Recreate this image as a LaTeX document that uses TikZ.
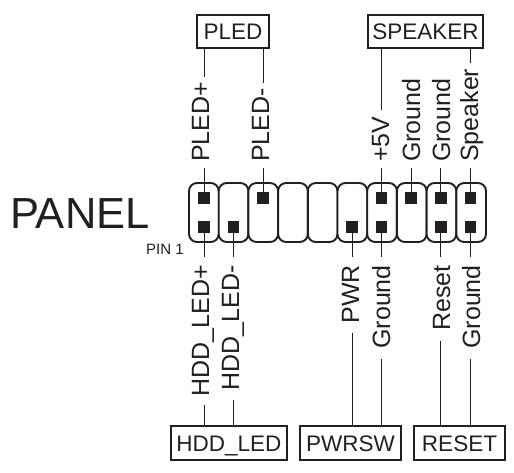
\documentclass[tikz,border=0pt]{standalone}
\usepackage{fontspec}
\setmainfont{Liberation Sans}
\definecolor{ink}{HTML}{231F20}
\tikzset{
  x=1pt,y=-1pt,
  boxlab/.style={draw=ink,line width=2.2pt,text=ink,font=\fontsize{22.5}{22.5}\selectfont,inner sep=0pt,anchor=center,text height=16pt,text depth=0pt},
  uplab/.style={rotate=90,anchor=base west,inner sep=0pt,text=ink,font=\fontsize{25}{25}\selectfont},
  downlab/.style={rotate=90,anchor=base east,inner sep=0pt,text=ink,font=\fontsize{25}{25}\selectfont},
  pin/.style={fill=ink,draw=none,minimum size=11.5pt,inner sep=0pt},
  cell/.style={draw=ink,line width=1.9pt,rounded corners=8pt,fill=white},
  wire/.style={draw=ink,line width=0.8pt},
}
\begin{document}
\begin{tikzpicture}
\useasboundingbox (0,0) rectangle (514,472);
% housing cells
\foreach \i in {0,...,9}{
  \draw[cell] ({189+\i*29.7},183) rectangle ({218.7+\i*29.7},242);
}
% pins
\foreach \nm/\x/\y in {a/204/198,b/204/227,c/233.6/227,d/263.2/198,e/352/227,f/381.6/198,g/381.6/227,h/411.2/198,i/440.8/198,j/440.8/227,k/470.4/198,l/470.4/227}{
  \node[pin] (p\nm) at (\x,\y) {};
}
% header boxes
\node[boxlab,minimum width=72pt,minimum height=33.5pt] (pled) at (233,31.5) {PLED};
\node[boxlab,minimum width=115pt,minimum height=33.5pt] (spk) at (425.5,31.5) {SPEAKER};
\node[boxlab,minimum width=116pt,minimum height=34pt] (hdd) at (229,443) {HDD\_LED};
\node[boxlab,minimum width=101pt,minimum height=34pt] (pwr) at (350.5,443) {PWRSW};
\node[boxlab,minimum width=91pt,minimum height=34pt] (rst) at (459.5,443) {RESET};
% top labels
\node[uplab] (t1) at (209,162) {PLED+};
\node[uplab] (t2) at (269,162) {PLED-};
\node[uplab] (t3) at (389,162) {+5V};
\node[uplab] (t4) at (420,162) {Ground};
\node[uplab] (t5) at (450,162) {Ground};
\node[uplab] (t6) at (478,162) {Speaker};
% bottom labels
\node[downlab] (b1) at (209,265) {HDD\_LED+};
\node[downlab] (b2) at (239,265) {HDD\_LED-};
\node[downlab] (b3) at (359,265) {PWR};
\node[downlab] (b4) at (390,265) {Ground};
\node[downlab] (b5) at (450,265) {Reset};
\node[downlab] (b6) at (480,265) {Ground};
% connectors above the header
\draw[wire] ([yshift=-6pt]pa |- t1.west) -- (pa);
\draw[wire] ([yshift=-6pt]pd |- t2.west) -- (pd);
\draw[wire] ([yshift=-6pt]pf |- t3.west) -- (pf);
\draw[wire] ([yshift=-6pt]ph |- t4.west) -- (ph);
\draw[wire] ([yshift=-6pt]pi |- t5.west) -- (pi);
\draw[wire] ([yshift=-6pt]pk |- t6.west) -- (pk);
\draw[wire] (pled.south -| pa) -- ([yshift=5pt]pa |- t1.east);
\draw[wire] (pled.south -| pd) -- ([yshift=5pt]pd |- t2.east);
\draw[wire] (spk.south -| pf) -- ([yshift=6pt]pf |- t3.east);
\draw[wire] (spk.south -| pk) -- ([yshift=5pt]pk |- t6.east);
% connectors below the header
\draw[wire] (pb) -- ([yshift=8pt]pb |- b1.east);
\draw[wire] (pc) -- ([yshift=8pt]pc |- b2.east);
\draw[wire] (pe) -- ([yshift=8pt]pe |- b3.east);
\draw[wire] (pg) -- ([yshift=8pt]pg |- b4.east);
\draw[wire] (pj) -- ([yshift=8pt]pj |- b5.east);
\draw[wire] (pl) -- ([yshift=8pt]pl |- b6.east);
\draw[wire] ([yshift=-8pt]pb |- b1.west) -- (hdd.north -| pb);
\draw[wire] ([yshift=-10pt]pc |- b2.west) -- (hdd.north -| pc);
\draw[wire] ([yshift=-9pt]pe |- b3.west) -- (pwr.north -| pe);
\draw[wire] ([yshift=-10pt]pg |- b4.west) -- (pwr.north -| pg);
\draw[wire] ([yshift=-10pt]pj |- b5.west) -- (rst.north -| pj);
\draw[wire] ([yshift=-10pt]pl |- b6.west) -- (rst.north -| pl);
% free labels
\node[anchor=base west,inner sep=0pt,text=ink,font=\fontsize{43.5}{43.5}\selectfont] (panel) at (10,228) {PANEL};
\node[anchor=base west,inner sep=0pt,text=ink,font=\fontsize{15}{15}\selectfont] (pin1) at (146,254) {PIN 1};
\end{tikzpicture}
\end{document}
